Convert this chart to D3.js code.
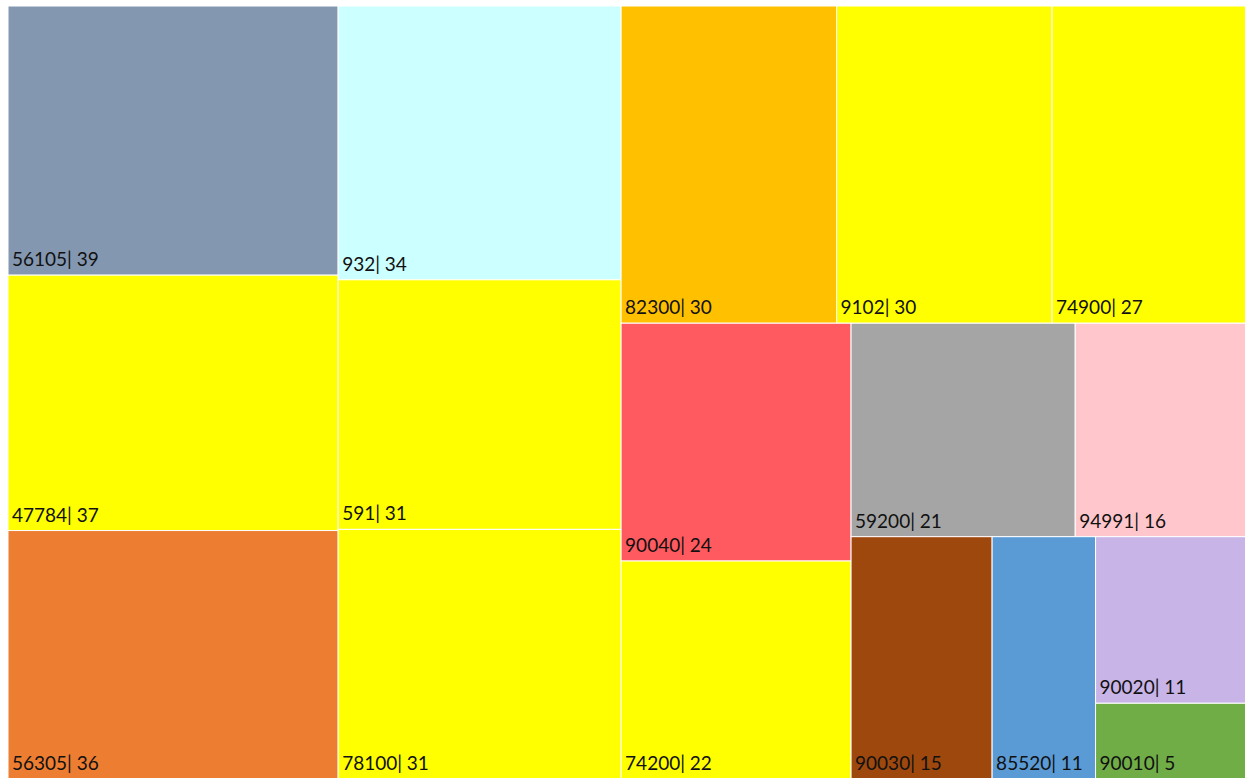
<!DOCTYPE html>
<html><head><meta charset="utf-8">
<script src="https://cdn.jsdelivr.net/npm/d3@7"></script>
<style>body{margin:0;background:#fff;}svg{display:block;}</style>
</head><body>
<svg id="chart" width="1245" height="778"></svg>
<script>
const codes = ["56105","47784","56305","932","591","78100","82300","9102","74900","90040","74200","59200","94991","90030","85520","90020","90010"];
const counts = [39,37,36,34,31,31,30,30,27,24,22,21,16,15,11,11,5];
const colors = ["#8497B0","#FFFF00","#ED7D31","#CCFFFF","#FFFF00","#FFFF00","#FFC000","#FFFF00","#FFFF00","#FF5A5F","#FFFF00","#A5A5A5","#FFC7CB","#9E480E","#5B9BD5","#C9B4E8","#70AD47"];

// tiling plan (Excel-style strips): number of items per strip and strip orientation
const stripPlan = [[3,"col"],[3,"col"],[3,"row"],[2,"col"],[2,"row"],[1,"col"],[1,"col"],[2,"col"]];

function excelTile(parent, x0, y0, x1, y1) {
  const nodes = parent.children;
  let value = parent.value, i = 0;
  for (const [n, dir] of stripPlan) {
    const row = nodes.slice(i, i + n);
    if (!row.length) break;
    const s = d3.sum(row, d => d.value);
    const pseudo = {children: row, value: s};
    if (dir === "col") {
      const xm = x0 + (x1 - x0) * s / value;
      d3.treemapSlice(pseudo, x0, y0, xm, y1);
      x0 = xm;
    } else {
      const ym = y0 + (y1 - y0) * s / value;
      d3.treemapDice(pseudo, x0, y0, x1, ym);
      y0 = ym;
    }
    value -= s; i += n;
  }
}

const svg = d3.select("#chart");
const X0 = 8, Y0 = 6, X1 = 1246, Y1 = 779;
const root = d3.hierarchy({children: codes.map((c,i)=>({code:c, value:counts[i], color:colors[i]}))})
  .sum(d => d.value || 0);
d3.treemap().tile(excelTile).size([X1-X0, Y1-Y0]).round(false)(root);

const g = svg.append("g").attr("transform", `translate(${X0},${Y0})`);
const cell = g.selectAll("g.cell").data(root.leaves()).join("g").attr("class","cell");
cell.append("rect")
  .attr("x", d => d.x0).attr("y", d => d.y0)
  .attr("width", d => d.x1 - d.x0).attr("height", d => d.y1 - d.y0)
  .attr("fill", d => d.data.color)
  .attr("stroke", "#ffffff").attr("stroke-width", 1);
cell.append("text")
  .attr("x", d => d.x0 + 4).attr("y", d => d.y1 - 9)
  .attr("font-family", "Lato, 'Open Sans', sans-serif")
  .attr("font-size", 19).attr("fill", "#111")
  .text(d => `${d.data.code}| ${d.data.value}`);
</script>
</body></html>
